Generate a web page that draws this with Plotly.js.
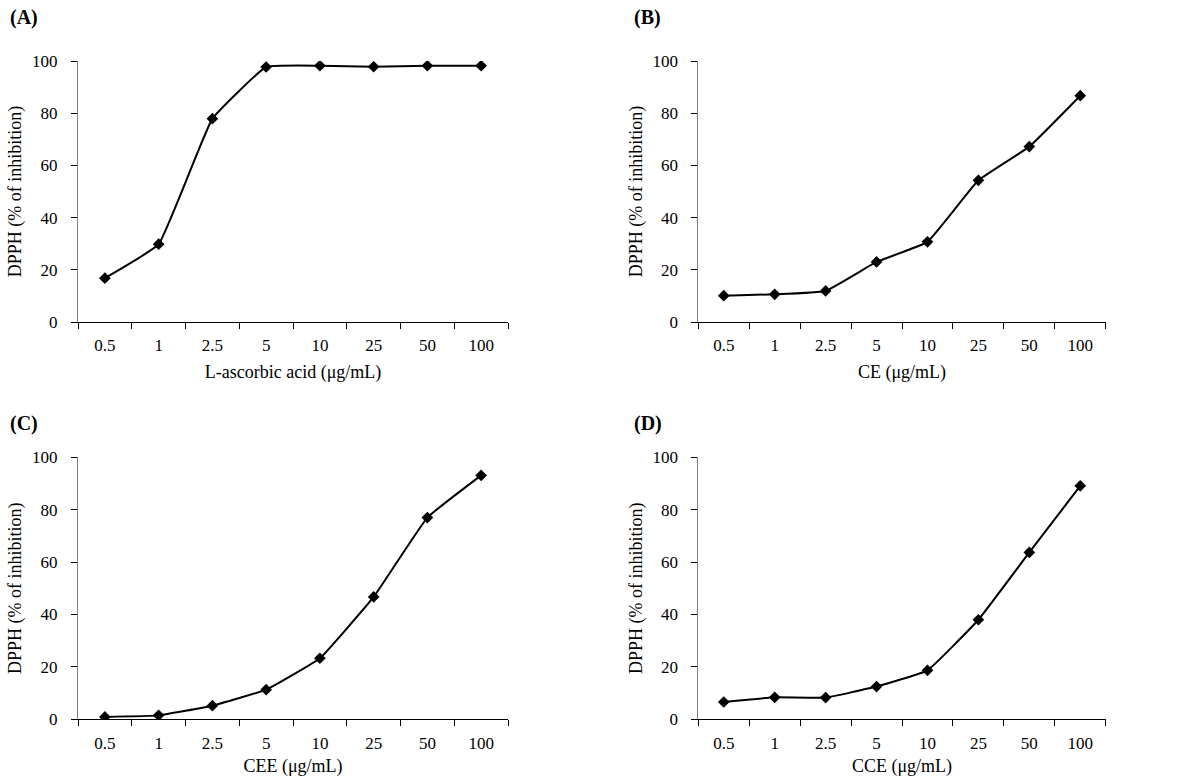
<!DOCTYPE html>
<html><head><meta charset="utf-8">
<script src="https://cdn.plot.ly/plotly-3.0.1.min.js"></script>
<style>html,body{margin:0;padding:0;background:#fff}#chart{width:1190px;height:777px}</style>
</head><body><div id="chart"></div>
<script>
const concentrations = ["0.5","1","2.5","5","10","25","50","100"];
const ascorbicAcid = [16.8, 29.8, 77.9, 97.7, 98.2, 97.8, 98.2, 98.2];
const ceValues = [10.1, 10.6, 11.9, 23.0, 30.7, 54.3, 67.2, 86.7];
const ceeValues = [0.9, 1.5, 5.2, 11.3, 23.3, 46.7, 77.0, 93.1];
const cceValues = [6.6, 8.4, 8.3, 12.5, 18.7, 38.0, 63.7, 89.1];
const panelLabels = ["(A)","(B)","(C)","(D)"];
const xTitles = ["L-ascorbic acid (μg/mL)","CE (μg/mL)","CEE (μg/mL)","CCE (μg/mL)"];
const yTitle = "DPPH (% of inhibition)";
const yTicks = [0,20,40,60,80,100];

const series = [ascorbicAcid, ceValues, ceeValues, cceValues];
const W = 1190, H = 777;
const xDom = [[78/W, 508/W],[698.3/W, 1105.7/W]];
const yDom = [[1-322/H, 1-61/H],[1-719.3/H, 1-457.3/H]];
const font = "'Liberation Serif', 'Times New Roman', serif";
const fs = 17, ts = 18;

const traces = [];
const layout = {
  width: W, height: H, margin:{l:0,r:0,t:0,b:0},
  paper_bgcolor:"#fff", plot_bgcolor:"#fff", showlegend:false,
  font:{family:font, size:fs, color:"#000"}, annotations:[]
};
series.forEach((vals,i)=>{
  const n = i+1;
  const xa = n===1 ? "x" : "x"+n, ya = n===1 ? "y" : "y"+n;
  traces.push({
    x: concentrations, y: vals, xaxis: xa, yaxis: ya,
    type:"scatter", mode:"lines+markers",
    line:{color:"#000", width:2, shape:"spline", smoothing:0.3},
    marker:{symbol:"diamond", size:9, color:"#000"}
  });
  const col = i%2, row = Math.floor(i/2);
  const xk = n===1 ? "xaxis" : "xaxis"+n, yk = n===1 ? "yaxis" : "yaxis"+n;
  layout[xk] = {
    domain:xDom[col], anchor:ya, type:"category", range:[-0.5,7.5],
    tickson:"boundaries", ticks:"outside", ticklen:6, tickcolor:"#000", tickwidth:1,
    ticklabelstandoff:8,
    showline:true, linecolor:"#000", linewidth:1, showgrid:false, zeroline:false,
    tickfont:{family:font,size:fs,color:"#000"},
    title:{text:xTitles[i], font:{family:font,size:ts,color:"#000"}, standoff:10},
    fixedrange:true
  };
  layout[yk] = {
    domain:yDom[row], anchor:xa, range:[0,100], tickvals:yTicks,
    ticks:"outside", ticklen:6, tickcolor:"#000", tickwidth:1,
    ticklabelstandoff:10,
    showline:true, linecolor:"#808080", linewidth:1, showgrid:false, zeroline:false,
    tickfont:{family:font,size:fs,color:"#000"},
    title:{text:yTitle, font:{family:font,size:ts,color:"#000"}, standoff:5},
    fixedrange:true
  };
  layout.annotations.push({
    text:"<b>"+panelLabels[i]+"</b>", xref:"paper", yref:"paper",
    x: col===0 ? 8/W : 632/W, y: row===0 ? 1-18/H : 1-424/H,
    xanchor:"left", yanchor:"middle", showarrow:false,
    font:{family:font, size:20, color:"#000"}
  });
});
Plotly.newPlot("chart", traces, layout, {displayModeBar:false, staticPlot:true});
</script></body></html>
